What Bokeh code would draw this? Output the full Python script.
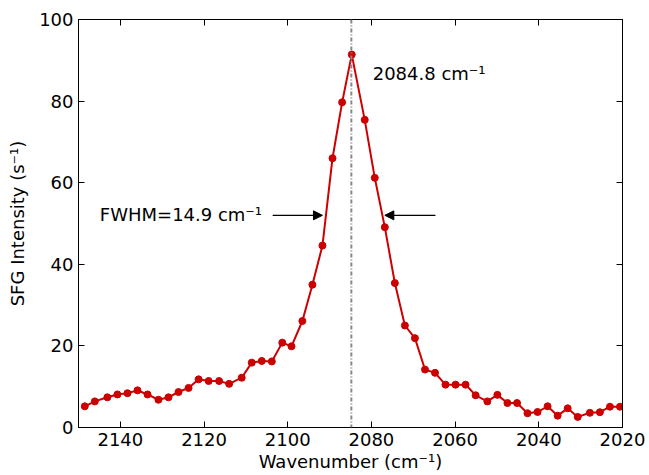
from bokeh.plotting import figure
from bokeh.models import Range1d, FixedTicker, LinearAxis, Span, Arrow, NormalHead, Label
from bokeh.embed import file_html
from bokeh.resources import INLINE

wavenumber = [2148.5, 2146.1, 2143.1, 2140.7, 2138.3, 2135.9, 2133.5, 2130.9, 2128.5, 2126.1,
              2123.7, 2121.3, 2118.9, 2116.4, 2114.0, 2111.0, 2108.6, 2106.2, 2103.8, 2101.3,
              2099.1, 2096.5, 2094.1, 2091.7, 2089.3, 2087.0, 2084.7, 2081.6, 2079.2, 2076.8,
              2074.4, 2072.0, 2069.6, 2067.2, 2064.8, 2062.3, 2059.9, 2057.5, 2055.1, 2052.3,
              2049.9, 2047.5, 2045.2, 2042.7, 2040.3, 2037.9, 2035.5, 2033.1, 2030.7, 2027.8,
              2025.4, 2023.0, 2020.6]
intensity = [5.2, 6.4, 7.4, 8.1, 8.4, 9.1, 8.1, 6.8, 7.4, 8.7,
             9.7, 11.8, 11.4, 11.4, 10.7, 12.2, 15.9, 16.3, 16.2, 20.8,
             19.9, 26.1, 35.0, 44.6, 66.0, 79.7, 91.4, 75.4, 61.2, 49.1,
             35.4, 25.0, 21.9, 14.2, 13.4, 10.5, 10.5, 10.5, 7.9, 6.4,
             8.0, 6.0, 6.0, 3.5, 3.8, 5.2, 2.9, 4.7, 2.6, 3.6,
             3.75, 5.1, 5.1]

peak_center = 2084.8
peak_label = "2084.8 cm\u207b\u00b9"
fwhm_label = "FWHM=14.9 cm\u207b\u00b9"
half_left = 2091.7
half_right = 2076.8
arrow_y = 52.0
x_ticks = [2140, 2120, 2100, 2080, 2060, 2040, 2020]
y_ticks = [0, 20, 40, 60, 80, 100]

FONT = "DejaVu Sans"
FS = "18px"
RED = "#cc0000"

p = figure(width=649, height=475, output_backend="svg", toolbar_location=None,
           x_range=Range1d(2150, 2020), y_range=Range1d(0, 100),
           min_border_left=78, min_border_right=27, min_border_top=19, min_border_bottom=48,
           background_fill_color="white", border_fill_color="white")
p.xgrid.visible = False
p.ygrid.visible = False
p.outline_line_color = "black"
p.outline_line_width = 1

def style_axis(ax, ticks, show_labels):
    ax.ticker = FixedTicker(ticks=ticks)
    ax.major_tick_in = 6
    ax.major_tick_out = 0
    ax.minor_tick_in = 0
    ax.minor_tick_out = 0
    ax.axis_line_color = "black"
    ax.major_tick_line_color = "black"
    ax.major_label_text_font = FONT
    ax.major_label_text_color = "black"
    ax.major_label_text_font_size = FS
    if show_labels:
        ax.major_label_standoff = 5
    else:
        ax.major_label_overrides = {t: "" for t in ticks}
        ax.major_label_standoff = 0
    ax.axis_label_text_font = FONT
    ax.axis_label_text_font_size = FS
    ax.axis_label_text_font_style = "normal"
    ax.axis_label_text_color = "black"

style_axis(p.xaxis[0], x_ticks, True)
style_axis(p.yaxis[0], y_ticks, True)
p.xaxis[0].axis_label = "Wavenumber (cm\u207b\u00b9)"
p.xaxis[0].axis_label_standoff = 2
p.yaxis[0].axis_label = "SFG Intensity (s\u207b\u00b9)"
p.yaxis[0].axis_label_standoff = 8

top_ax = LinearAxis()
style_axis(top_ax, x_ticks, False)
p.add_layout(top_ax, "above")
right_ax = LinearAxis()
style_axis(right_ax, y_ticks, False)
p.add_layout(right_ax, "right")

p.add_layout(Span(location=peak_center, dimension="height", line_color="#888888",
                  line_width=2, line_dash="4 2 1 2"))

p.line(wavenumber, intensity, line_color=RED, line_width=2)
p.scatter(wavenumber, intensity, size=7, fill_color=RED, line_color=RED)

p.add_layout(Arrow(end=NormalHead(size=9, fill_color="black", line_color="black"),
                   x_start=2103.6, y_start=arrow_y, x_end=half_left, y_end=arrow_y,
                   line_color="black", line_width=1.2))
p.add_layout(Arrow(end=NormalHead(size=9, fill_color="black", line_color="black"),
                   x_start=2064.7, y_start=arrow_y, x_end=half_right, y_end=arrow_y,
                   line_color="black", line_width=1.2))

p.add_layout(Label(x=2079.7, y=86.8, text=peak_label, text_font=FONT, text_font_size=FS,
                   text_baseline="middle", text_align="left", text_color="black"))
p.add_layout(Label(x=2144.9, y=52.3, text=fwhm_label, text_font=FONT, text_font_size=FS,
                   text_baseline="middle", text_align="left", text_color="black"))

open("out.html", "w").write(file_html(p, INLINE))
